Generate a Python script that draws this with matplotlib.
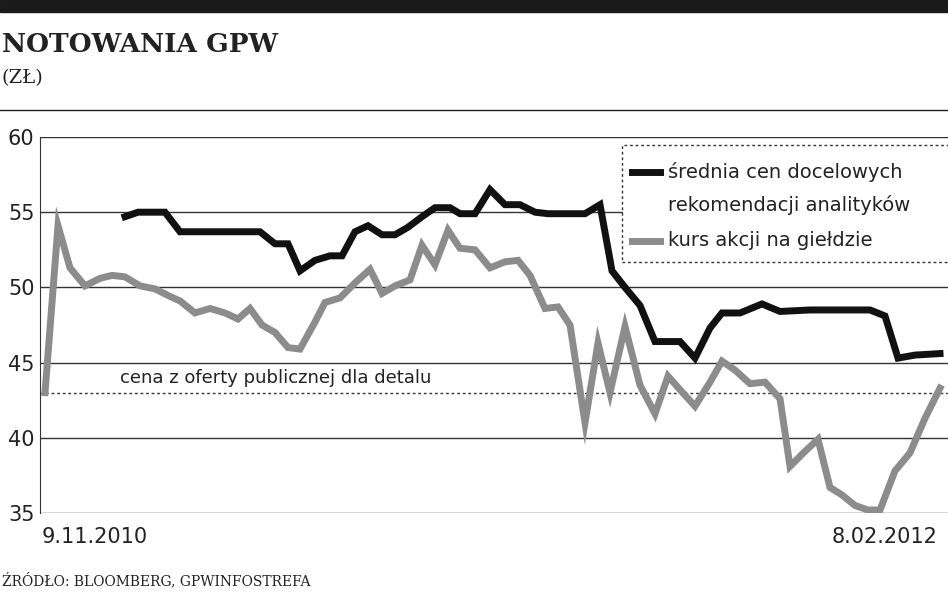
import matplotlib
matplotlib.use("Agg")
import matplotlib.pyplot as plt
from matplotlib.patches import Rectangle

# time axis positions (relative timeline units)
grey_t = [45,58,70,85,100,112,125,140,155,170,180,195,210,225,238,250,262,275,288,300,315,325,340,355,370,382,395,410,422,435,448,460,475,490,505,518,530,545,558,570,585,598,610,625,640,655,668,680,695,710,722,735,750,765,780,790,805,818,830,842,855,868,880,895,910,925,940]
grey_v = [43,54.1,51.3,50.1,50.6,50.8,50.7,50.1,49.9,49.4,49.1,48.3,48.6,48.3,47.9,48.6,47.5,47,46,45.9,47.7,49,49.3,50.3,51.2,49.6,50.1,50.5,52.8,51.5,53.8,52.6,52.5,51.3,51.7,51.8,50.8,48.6,48.7,47.5,41,46.3,43,47.4,43.5,41.6,44.1,43.2,42.1,43.7,45.1,44.5,43.6,43.7,42.6,38.1,39.1,39.9,36.7,36.2,35.5,35.2,35.2,37.8,39,41.3,43.3]
black_t = [125,138,165,180,260,275,288,300,315,330,342,355,368,382,395,408,422,435,450,460,475,490,505,520,535,548,585,600,612,625,640,655,680,695,710,722,740,762,780,810,870,885,898,915,940]
black_v = [54.7,55,55,53.7,53.7,52.9,52.9,51.1,51.8,52.1,52.1,53.7,54.1,53.5,53.5,54,54.7,55.3,55.3,54.9,54.9,56.5,55.5,55.5,55,54.9,54.9,55.5,51.1,50,48.8,46.4,46.4,45.3,47.3,48.3,48.3,48.9,48.4,48.5,48.5,48.1,45.3,45.5,45.6]
yticks = [35,40,45,50,55,60]
offer_price = 43

W, H = 948, 593
fig = plt.figure(figsize=(W/100, H/100), dpi=100)
fig.patches.append(Rectangle((0, 1-12/H), 1, 12/H, transform=fig.transFigure, color="#1a1a1a"))
fig.add_artist(plt.Line2D([0, 1], [1-110/H, 1-110/H], color="#222", lw=1))
fig.text(0.002, 1-45/H, "NOTOWANIA GPW", fontsize=19, fontweight="bold", family="DejaVu Serif", va="center", color="#222")
fig.text(0.002, 1-78/H, "(ZŁ)", fontsize=14, family="DejaVu Serif", va="center", color="#222")
fig.text(0.002, 1-580/H, "ŹRÓDŁO: BLOOMBERG, GPWINFOSTREFA", fontsize=10, family="DejaVu Serif", va="center", color="#222")

ax = fig.add_axes([40/W, 1-513/H, 1-40/W, (513-137)/H])
ax.set_xlim(40, 948)
ax.set_ylim(35, 60)
for y in yticks:
    ax.axhline(y, color="#333", lw=1, zorder=1)
ax.axhline(offer_price, color="#333", lw=1, ls=(0, (2, 2)), zorder=1)
ax.text(120, 44.0, "cena z oferty publicznej dla detalu", fontsize=13, color="#222", va="center")
ax.plot(grey_t, grey_v, color="#8c8c8c", lw=5, solid_joinstyle="miter", zorder=3)
ax.plot(black_t, black_v, color="#111", lw=5, solid_joinstyle="miter", zorder=4)
for s in ["top", "right", "bottom"]:
    ax.spines[s].set_visible(False)
ax.spines["left"].set_color("#333")
ax.set_yticks(yticks)
ax.set_yticklabels([str(v) for v in yticks], fontsize=15, color="#222")
ax.tick_params(axis="y", length=0, pad=4)
ax.set_xticks([])

# legend
ax.add_patch(Rectangle((622, 51.7), 330, 7.8, fill=False, ls=(0, (2, 2)), lw=1, ec="#333", zorder=5, clip_on=False))
ax.add_patch(Rectangle((623, 51.75), 330, 7.7, fill=True, fc="white", ec="none", zorder=4.5))
ax.plot([632, 660], [57.7, 57.7], color="#111", lw=5, zorder=6)
ax.plot([632, 660], [53.1, 53.1], color="#8c8c8c", lw=5, zorder=6)
ax.text(668, 57.7, "średnia cen docelowych", fontsize=14, va="center", color="#222", zorder=6)
ax.text(668, 55.5, "rekomendacji analityków", fontsize=14, va="center", color="#222", zorder=6)
ax.text(668, 53.1, "kurs akcji na giełdzie", fontsize=14, va="center", color="#222", zorder=6)

fig.text(95/W, 1-537/H, "9.11.2010", fontsize=15, ha="center", va="center", color="#222")
fig.text(885/W, 1-537/H, "8.02.2012", fontsize=15, ha="center", va="center", color="#222")
fig.savefig("out.png", dpi=100)
